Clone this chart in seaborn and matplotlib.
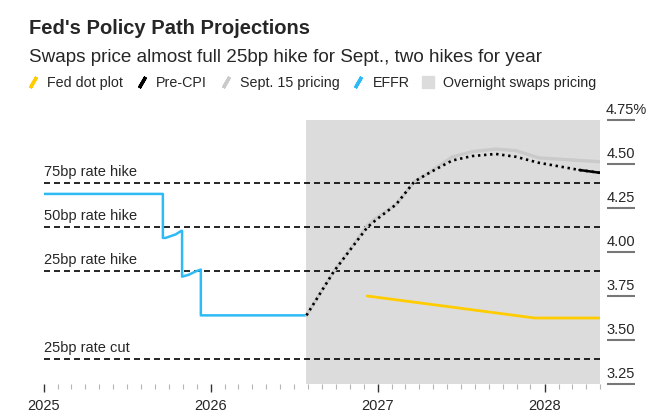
import pandas as pd
import numpy as np
import seaborn as sns
import matplotlib.dates as mdates
from matplotlib import pyplot as plt
from matplotlib.lines import Line2D

# Chart data
effr_dates = ["2025-01-01", "2025-09-18", "2025-09-18", "2025-09-24", "2025-10-16", "2025-10-28",
              "2025-10-30", "2025-10-30", "2025-11-13", "2025-11-29", "2025-12-10", "2025-12-10",
              "2026-07-29"]
effr_vals = [4.33, 4.33, 4.08, 4.08, 4.10, 4.12, 4.12, 3.86, 3.87, 3.89, 3.90, 3.64, 3.64]

precpi_dates = ["2026-07-29", "2026-09-27", "2026-12-09", "2026-12-27", "2027-02-10", "2027-03-22",
                "2027-04-17", "2027-05-15", "2027-06-13", "2027-07-26", "2027-09-16", "2027-10-30",
                "2027-12-19", "2028-03-17", "2028-05-01"]
precpi_vals = [3.64, 3.89, 4.14, 4.18, 4.27, 4.40, 4.44, 4.48, 4.52, 4.545, 4.557, 4.541,
               4.507, 4.466, 4.45]

sept15_dates = ["2026-07-29", "2026-09-27", "2026-12-09", "2026-12-27", "2027-02-10", "2027-03-22",
                "2027-04-17", "2027-05-15", "2027-06-13", "2027-07-26", "2027-09-16", "2027-10-30",
                "2027-12-19", "2028-03-17", "2028-05-01"]
sept15_vals = [3.64, 3.89, 4.15, 4.19, 4.27, 4.40, 4.44, 4.49, 4.54, 4.57, 4.585, 4.576,
               4.535, 4.52, 4.513]

dot_dates = ["2026-12-09", "2027-12-10", "2028-05-01"]
dot_vals = [3.75, 3.625, 3.625]

swaps_start = "2026-07-29"
x_start, x_end = "2025-01-01", "2028-05-01"

ref_levels = [4.39, 4.14, 3.89, 3.39]
ref_labels = ["75bp rate hike", "50bp rate hike", "25bp rate hike", "25bp rate cut"]

ytick_vals = [3.25, 3.50, 3.75, 4.00, 4.25, 4.50, 4.75]
ytick_labels = ["3.25", "3.50", "3.75", "4.00", "4.25", "4.50", "4.75%"]

legend_labels = ["Fed dot plot", "Pre-CPI", "Sept. 15 pricing", "EFFR", "Overnight swaps pricing"]

YELLOW = "#FFCC00"
BLACK = "#000000"
LGRAY = "#CACACA"
BLUE = "#2EBBF5"
SHADE = "#DCDCDC"

effr = pd.DataFrame({"date": pd.to_datetime(effr_dates), "rate": effr_vals})
precpi = pd.DataFrame({"date": pd.to_datetime(precpi_dates), "rate": precpi_vals})
sept15 = pd.DataFrame({"date": pd.to_datetime(sept15_dates), "rate": sept15_vals})
dots = pd.DataFrame({"date": pd.to_datetime(dot_dates), "rate": dot_vals})

sns.set_style("white")
plt.rcParams["font.family"] = ["Liberation Sans", "DejaVu Sans"]

fig = plt.figure(figsize=(6.71, 4.19), dpi=100)
ax = fig.add_axes([44 / 671, 35 / 419, 556 / 671, 264 / 419])

# shaded region for overnight swaps pricing
ax.axvspan(pd.Timestamp(swaps_start), pd.Timestamp(x_end), color=SHADE, lw=0, zorder=0)

# reference levels
for lvl, lab in zip(ref_levels, ref_labels):
    ax.axhline(lvl, color=BLACK, lw=1.2, linestyle=(0, (3.6, 2.4)), zorder=2)
    ax.annotate(lab, xy=(0, lvl), xycoords=ax.get_yaxis_transform(), xytext=(0, 3),
                textcoords="offset points", ha="left", va="bottom", fontsize=10.5)

line_kw = dict(x="date", y="rate", estimator=None, sort=False, ax=ax)
sns.lineplot(data=effr, color=BLUE, lw=1.8, zorder=3, **line_kw)
sns.lineplot(data=sept15, color=LGRAY, lw=2.4, zorder=3, **line_kw)
sns.lineplot(data=precpi, color=BLACK, lw=1.9, linestyle=(0, (0.9, 1.4)), zorder=4, **line_kw)
tail = precpi.iloc[-2:]
sns.lineplot(data=tail, color=BLACK, lw=1.8, zorder=4, **line_kw)
sns.lineplot(data=dots, color=YELLOW, lw=2.0, zorder=3, **line_kw)

ax.set_xlim(pd.Timestamp(x_start), pd.Timestamp(x_end))
ax.set_ylim(3.25, 4.75)
ax.set_xlabel("")
ax.set_ylabel("")
for s in ax.spines.values():
    s.set_visible(False)

# x axis: yearly labels, monthly minor ticks
ax.xaxis.set_major_locator(mdates.YearLocator())
ax.xaxis.set_major_formatter(mdates.DateFormatter("%Y"))
ax.xaxis.set_minor_locator(mdates.MonthLocator())
ax.tick_params(axis="x", which="major", length=6, width=1, color="#333333",
               labelsize=10.5, pad=5, bottom=True)
ax.tick_params(axis="x", which="minor", length=3.5, width=0.8, color="#B5B5B5", bottom=True)

# y axis on the right, ticks drawn as short lines under the labels
ax.yaxis.tick_right()
ax.spines["right"].set_position(("outward", 5))
ax.set_yticks(ytick_vals)
ax.tick_params(axis="y", which="major", length=20, width=1.5, color="#777777",
               labelright=False, right=True, left=False)
ytrans = ax.get_yaxis_transform()
for v, lab in zip(ytick_vals, ytick_labels):
    xpos = 1.0845 if lab.endswith("%") else 1.063
    ax.annotate(lab, xy=(xpos, v), xycoords=ytrans, xytext=(0, 4), textcoords="offset points",
                ha="right", va="baseline", fontsize=10.5, annotation_clip=False)

# title, subtitle
fig.text(29 / 671, 1 - 28 / 419, "Fed's Policy Path Projections", fontsize=14.5,
         fontweight="bold", va="center", ha="left")
fig.text(29 / 671, 1 - 57 / 419, "Swaps price almost full 25bp hike for Sept., two hikes for year",
         fontsize=13.6, va="center", ha="left")

# legend
colors = [YELLOW, BLACK, LGRAY, BLUE]
handles = [Line2D([], [], color=c, marker=(2, 2, -30), linestyle="none", markersize=9,
                  markeredgewidth=2.4, markeredgecolor=c) for c in colors]
handles.append(Line2D([], [], color=SHADE, marker="s", linestyle="none", markersize=8))
fig.legend(handles, legend_labels, loc="center left", bbox_to_anchor=(26 / 671, 1 - 83 / 419),
           ncol=5, frameon=False, fontsize=10.3, handlelength=1.0, handletextpad=0.5,
           columnspacing=0.8, borderpad=0, borderaxespad=0)

fig.savefig("out.png", dpi=100)
